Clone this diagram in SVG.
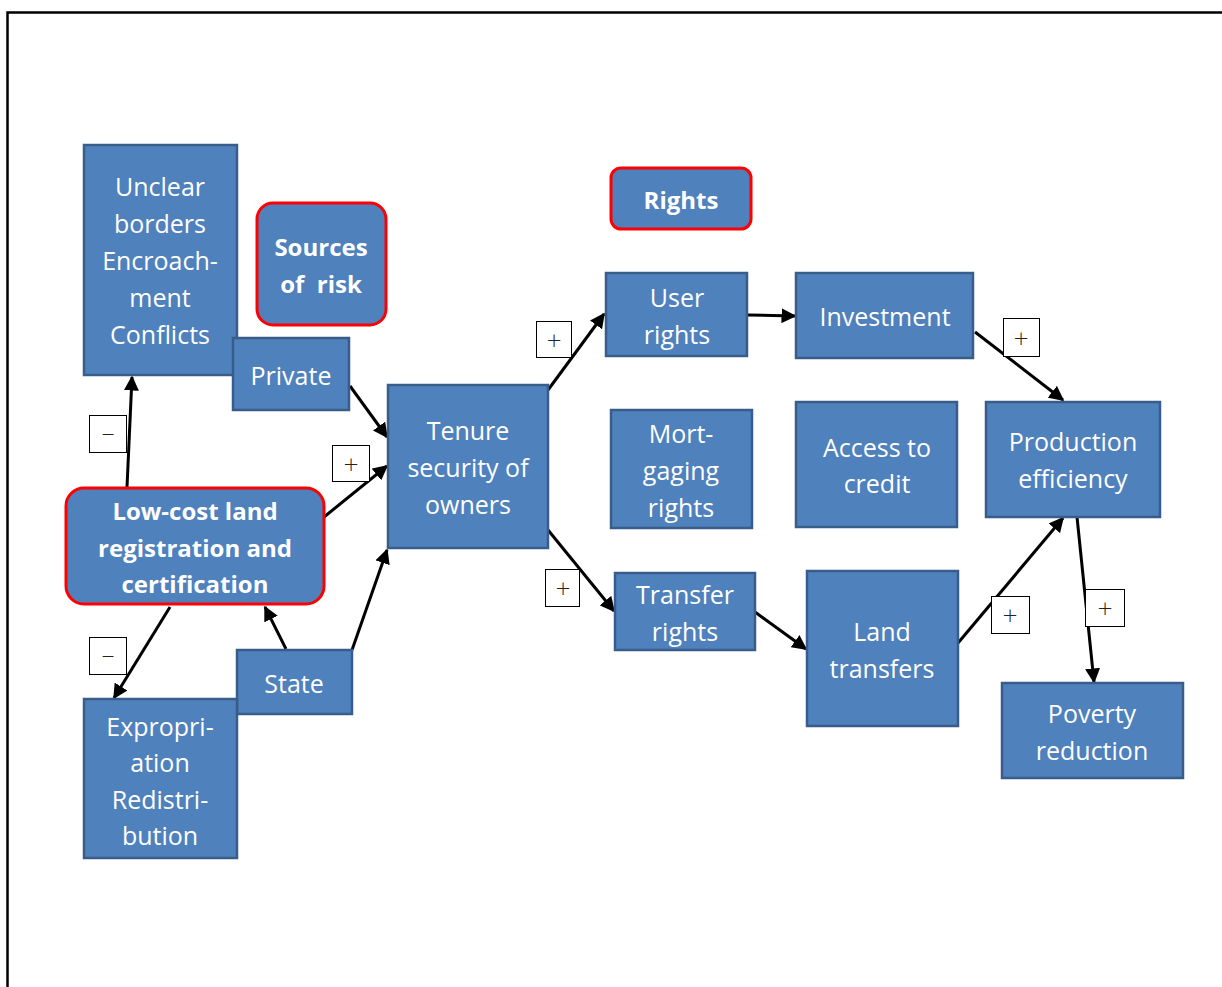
<svg xmlns="http://www.w3.org/2000/svg" width="1222" height="987" viewBox="0 0 1222 987">
<defs>
<marker id="ah" viewBox="0 0 10 10" refX="9" refY="5" markerWidth="5" markerHeight="5" orient="auto" markerUnits="strokeWidth">
<path d="M0,0 L10,5 L0,10 z" fill="#000"/>
</marker>
<style>
.box{fill:#4F81BD;stroke:#385D8A;stroke-width:2.5}
.rbox{fill:#4F81BD;stroke:#FF0000;stroke-width:3}
.t{font-family:"Open Sans","Liberation Sans",sans-serif;font-size:25px;fill:#fff;text-anchor:middle}
.b{font-family:"Open Sans","Liberation Sans",sans-serif;font-size:24px;font-weight:bold;fill:#fff;text-anchor:middle;white-space:pre}
.sg{fill:#fff;stroke:#000;stroke-width:1}
.st{font-family:"Lato","Liberation Sans",sans-serif;font-size:26px;font-weight:300;fill:#222;text-anchor:middle}
.c{stroke:#000;stroke-width:3;fill:none;marker-end:url(#ah)}
</style>
</defs>
<rect width="1222" height="987" fill="#fff"/>
<rect x="7.5" y="12.5" width="1230" height="1000" fill="none" stroke="#000" stroke-width="2.5"/>
<g id="connectors">
<line class="c" x1="127" y1="487" x2="132" y2="377"/>
<line class="c" x1="350" y1="386" x2="387" y2="437"/>
<line class="c" x1="324" y1="517" x2="387" y2="466"/>
<line class="c" x1="352" y1="650" x2="387" y2="550"/>
<line class="c" x1="286" y1="649" x2="265" y2="607"/>
<line class="c" x1="170" y1="607" x2="114" y2="698"/>
<line class="c" x1="548" y1="390" x2="604" y2="314"/>
<line class="c" x1="748" y1="315" x2="795" y2="316"/>
<line class="c" x1="548" y1="530" x2="614" y2="611"/>
<line class="c" x1="755" y1="612" x2="806" y2="649"/>
<line class="c" x1="975" y1="332" x2="1063" y2="400"/>
<line class="c" x1="958" y1="643" x2="1063" y2="518"/>
<line class="c" x1="1077" y1="517" x2="1094" y2="682"/>
</g>
<g id="signs">
<rect class="sg" x="89.5" y="415.5" width="37" height="37"/><text class="st" x="108" y="443">−</text>
<rect class="sg" x="332.5" y="445.5" width="37" height="36"/><text class="st" x="351" y="473">+</text>
<rect class="sg" x="89.5" y="637.5" width="37" height="37"/><text class="st" x="108" y="665">−</text>
<rect class="sg" x="536.5" y="321.5" width="35" height="36"/><text class="st" x="554" y="349">+</text>
<rect class="sg" x="545.5" y="569.5" width="34" height="37"/><text class="st" x="563" y="597">+</text>
<rect class="sg" x="1003.5" y="318.5" width="36" height="38"/><text class="st" x="1021" y="347">+</text>
<rect class="sg" x="991.5" y="596.5" width="38" height="37"/><text class="st" x="1010" y="624">+</text>
<rect class="sg" x="1085.5" y="589.5" width="39" height="37"/><text class="st" x="1105" y="617">+</text>
</g>
<g id="unclear"><rect class="box" x="84" y="145" width="153" height="230"/>
<text class="t" x="160" y="196">Unclear</text><text class="t" x="160" y="233">borders</text><text class="t" x="160" y="270">Encroach-</text><text class="t" x="160" y="307">ment</text><text class="t" x="160" y="344">Conflicts</text></g>
<g id="sources"><rect class="rbox" x="257" y="203" width="129" height="122" rx="16"/>
<text class="b" x="321" y="256">Sources</text><text class="b" x="321" y="293">of  risk</text></g>
<g id="private"><rect class="box" x="233" y="338" width="116" height="72"/>
<text class="t" x="291" y="385">Private</text></g>
<g id="tenure"><rect class="box" x="388" y="385" width="160" height="163"/>
<text class="t" x="468" y="440">Tenure</text><text class="t" x="468" y="477">security of</text><text class="t" x="468" y="514">owners</text></g>
<g id="lowcost"><rect class="rbox" x="66" y="488" width="258" height="116" rx="18"/>
<text class="b" x="195" y="520">Low-cost land</text><text class="b" x="195" y="557">registration and</text><text class="b" x="195" y="593">certification</text></g>
<g id="state"><rect class="box" x="237" y="650" width="115" height="64"/>
<text class="t" x="294" y="693">State</text></g>
<g id="expropriation"><rect class="box" x="84" y="699" width="153" height="159"/>
<text class="t" x="160" y="736">Expropri-</text><text class="t" x="160" y="772">ation</text><text class="t" x="160" y="809">Redistri-</text><text class="t" x="160" y="845">bution</text></g>
<g id="rights"><rect class="rbox" x="611" y="168" width="140" height="61" rx="10"/>
<text class="b" x="681" y="209">Rights</text></g>
<g id="userrights"><rect class="box" x="606" y="273" width="141" height="83"/>
<text class="t" x="677" y="307">User</text><text class="t" x="677" y="344">rights</text></g>
<g id="investment"><rect class="box" x="796" y="273" width="177" height="85"/>
<text class="t" x="885" y="326">Investment</text></g>
<g id="mortgaging"><rect class="box" x="611" y="410" width="141" height="118"/>
<text class="t" x="681" y="443">Mort-</text><text class="t" x="681" y="480">gaging</text><text class="t" x="681" y="517">rights</text></g>
<g id="credit"><rect class="box" x="796" y="402" width="161" height="125"/>
<text class="t" x="877" y="457">Access to</text><text class="t" x="877" y="493">credit</text></g>
<g id="production"><rect class="box" x="986" y="402" width="174" height="115"/>
<text class="t" x="1073" y="451">Production</text><text class="t" x="1073" y="488">efficiency</text></g>
<g id="transferrights"><rect class="box" x="615" y="573" width="140" height="77"/>
<text class="t" x="685" y="604">Transfer</text><text class="t" x="685" y="641">rights</text></g>
<g id="landtransfers"><rect class="box" x="807" y="571" width="151" height="155"/>
<text class="t" x="882" y="641">Land</text><text class="t" x="882" y="678">transfers</text></g>
<g id="poverty"><rect class="box" x="1002" y="683" width="181" height="95"/>
<text class="t" x="1092" y="723">Poverty</text><text class="t" x="1092" y="760">reduction</text></g>
</svg>
